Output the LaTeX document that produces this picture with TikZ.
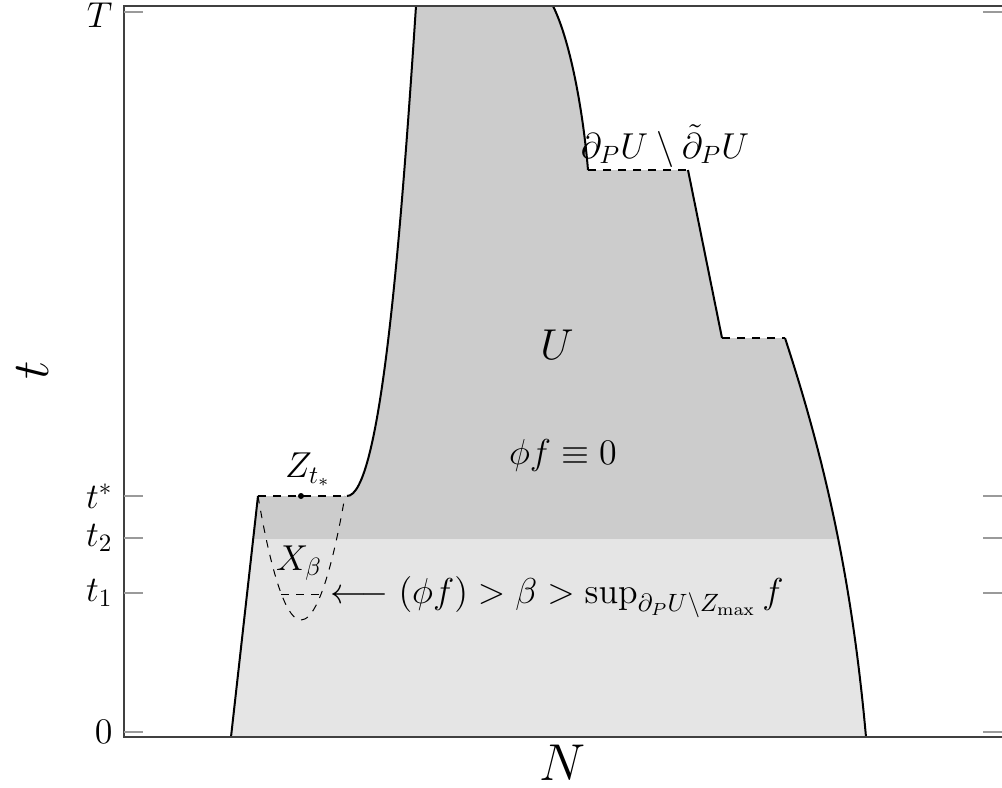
\documentclass[tikz,border=0pt,12pt]{standalone}
\usepackage{amsmath,amssymb}
\usepackage{tikz}
\definecolor{udark}{HTML}{CCCCCC}
\definecolor{ulight}{HTML}{E5E5E5}
\definecolor{axgrey}{HTML}{9A9A9A}
% outline of the region U (pixel-like units)
\newcommand{\Uoutline}{(231,737) -- (258,496) -- (347,496)
  .. controls (380,496) and (400,250) .. (416,6)
  -- (553,6)
  .. controls (570,40) and (583,110) .. (588,170)
  -- (688,170) -- (722,338) -- (785,338)
  .. controls (825,460) and (852,580) .. (866,737)
  -- cycle}

\begin{document}
\begin{tikzpicture}[
  x=0.4pt, y=-0.4pt,
  bnd/.style={thick, black},
  cut/.style={semithick, dashed, black},
  axisln/.style={semithick, black!75},
  ticklin/.style={semithick, axgrey},
  lbl/.style={font=\large, inner sep=1pt},
]
\useasboundingbox (0,0) rectangle (1002,788);
% shaded region, darker above t_2
\fill[ulight] \Uoutline;
\begin{scope}
  \clip (0,0) rectangle (1002,538);
  \fill[udark] \Uoutline;
\end{scope}

% boundary of U
\draw[bnd] (231,737) -- (258,496);
\draw[bnd, dashed] (258,496) -- (347,496);
\draw[bnd] (347,496) .. controls (380,496) and (400,250) .. (416,6);
\draw[bnd] (553,6) .. controls (570,40) and (583,110) .. (588,170);
\draw[cut] (588,170) -- (688,170);
\draw[bnd] (688,170) -- (722,338);
\draw[cut] (722,338) -- (785,338);
\draw[bnd] (785,338) .. controls (825,460) and (852,580) .. (866,737);

% X_beta
\draw[dashed] (258,496) parabola bend (301,620) (345,496);
\draw[dashed] (281,594) -- (321,594);
\fill (301,496) circle (1.2pt);

% axis box and ticks
\draw[axisln] (1002,6) -- (124,6) -- (124,737) -- (1002,737);
\foreach \ty/\tl/\tn in {12/T/tT, 496/t^*/tstar, 538/t_2/ttwo, 593/t_1/tone, 732/0/tzero} {
  \draw[ticklin] (124,\ty) -- (143,\ty);
  \draw[ticklin] (983,\ty) -- (1002,\ty);
}
\node[anchor=east, inner sep=0pt, font=\large] (tT) at (113,15) {$T$};
\foreach \ty/\tl/\tn in {496/t^*/tstar, 538/t_2/ttwo, 593/t_1/tone, 732/0/tzero}
  \node[anchor=east, inner sep=0pt, font=\large] (\tn) at (113,\ty) {$\tl$};

% labels
\node[font=\Large] (lU) at (557,345) {$U$};
\node[lbl] (lphi) at (563,455) {$\phi f\equiv 0$};
\node[lbl] (lbd) at (665,146) {$\partial_P U\setminus\tilde{\partial}_P U$};
\node[lbl] (lZ) at (308,470) {$Z_{t_*}$};
\node[lbl] (lX) at (299,563) {$X_\beta$};
\node[lbl, anchor=west, inner sep=0pt] (lsup) at (330,597) {$\longleftarrow (\phi f) > \beta > \sup_{\partial_P U\setminus Z_{\max}} f$};
\node[font=\LARGE] (lN) at (563,763) {$N$};
\node[font=\LARGE, rotate=90] (lt) at (33,370) {$t$};
\end{tikzpicture}
\end{document}
